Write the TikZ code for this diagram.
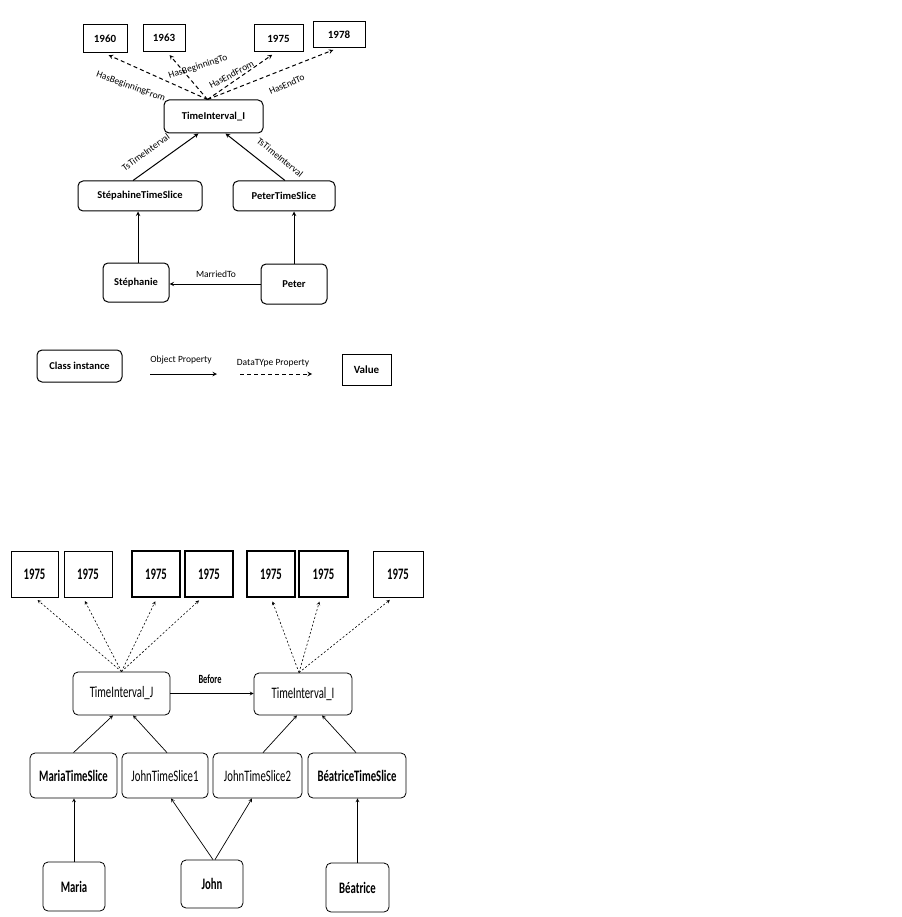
\documentclass[tikz,border=0pt]{standalone}
\usepackage{fontspec}
\setmainfont{Carlito}
\newfontfamily\narrowfont[FakeStretch=0.67]{Carlito}
\usepackage{tikz}
\tikzset{%
    dims/.style 2 args={minimum width=#1, minimum height=#2},
    inst/.style={draw, line width=1pt, rounded corners=5pt, inner sep=0pt,
        font=\bfseries\fontsize{10.5}{12}\selectfont},
    val/.style={draw, line width=1pt, inner sep=0pt,
        font=\bfseries\fontsize{11}{12}\selectfont},
    lbl/.style={inner sep=0pt, font=\fontsize{9.5}{10}\selectfont},
    objprop/.style={->, line width=1pt, >=stealth},
    dataprop/.style={->, line width=1pt, >=stealth, dash pattern=on 4pt off 3pt,
        shorten >=4pt},
%   lower picture
    ninst/.style={draw, line width=0.8pt, rounded corners=5pt, inner sep=0pt,
        font=\narrowfont\fontsize{16}{18}\selectfont},
    binst/.style={ninst, font=\narrowfont\bfseries\fontsize{16}{18}\selectfont},
    nval/.style={draw, line width=0.8pt, inner sep=0pt,
        font=\narrowfont\bfseries\fontsize{16}{18}\selectfont},
    nobjprop/.style={->, line width=0.7pt, >=stealth},
    ndataprop/.style={->, line width=0.6pt, >=stealth, dash pattern=on 2pt off 2pt,
        shorten >=4pt}
}

\begin{document}
\begin{tikzpicture}[x=1pt,y=-1pt]
    \fill[white] (0,0) rectangle (901,917);
    \useasboundingbox (0,0) rectangle (901,917);
%-----------------------------------------------
    \node[val,dims={44pt}{28pt}] (y1960) at (105,39) {1960};
    \node[val,dims={42pt}{27pt}] (y1963) at (164,38) {1963};
    \node[val,dims={49pt}{27pt}] (y1975) at (278.5,38.5) {1975};
    \node[val,dims={52pt}{26pt}] (y1978) at (339,35) {1978};
    \node[inst,dims={99pt}{33pt}] (tiI) at (213.5,116.5) {TimeInterval\_I};
    \node[inst,dims={124pt}{30pt}] (stephTS) at (140,196) {StépahineTimeSlice};
    \node[inst,dims={102pt}{30pt}] (peterTS) at (284,196) {PeterTimeSlice};
    \node[inst,dims={66pt}{39pt}] (steph) at (136,282.5) {Stéphanie};
    \node[inst,dims={66pt}{40pt}] (peter) at (294,284) {Peter};
%-----------------------------------------------
    \coordinate (tiItop) at ([xshift=-6]tiI.north);
    \draw[dataprop] (tiItop)--(y1960.south);
    \draw[dataprop] (tiItop)--([xshift=3]y1963.south);
    \draw[dataprop] (tiItop)--([xshift=-3]y1975.south);
    \draw[dataprop] (tiItop)--([xshift=-2]y1978.south);
    \draw[objprop] ([xshift=-7]stephTS.north)--([xshift=-15]tiI.south);
    \draw[objprop] ([xshift=1]peterTS.north)--([xshift=12]tiI.south);
    \draw[objprop] ([xshift=2]steph.north)--([xshift=2]steph.north |- stephTS.south);
    \draw[objprop] (peter.north)--(peter.north |- peterTS.south);
    \draw[objprop] (peter.west)--(peter.west -| steph.east);
%-----------------------------------------------
    \node[lbl,rotate=-20] (lHBF) at (130.7,86.7) {HasBeginningFrom};
    \node[lbl,rotate=18] (lHBT) at (198,67) {HasBeginningTo};
    \node[lbl,rotate=28] (lHEF) at (231.5,74.5) {HasEndFrom};
    \node[lbl,rotate=24] (lHET) at (286.7,84.3) {HasEndTo};
    \node[lbl,rotate=36] (lTs1) at (145.7,152.3) {TsTimeInterval};
    \node[lbl,rotate=-39] (lTs2) at (280,157.3) {TsTimeInterval};
    \node[lbl] (lMar) at (216,274) {MarriedTo};
%-----------------------------------------------
    \node[inst,dims={85pt}{32pt}] (legInst) at (79.5,366) {Class instance};
    \coordinate (op1) at (150,374);
    \coordinate (op2) at (217,374);
    \coordinate (dp1) at (240,374);
    \coordinate (dp2) at (316,374);
    \draw[objprop] (op1)--(op2);
    \draw[dataprop] (dp1)--(dp2);
    \node[lbl] (legObj) at (181,360) {Object Property};
    \node[lbl] (legData) at (273,363) {DataTYpe Property};
    \node[val,dims={49pt}{31pt}] (legVal) at (366.5,369.5) {Value};
%-----------------------------------------------
    \foreach \n/\x/\w in {b1/34.5/47, b2/88/48, b7/398/50}
        \node[nval,dims={\w pt}{46pt}] (\n) at (\x,574) {1975};
    \foreach \n/\x/\w in {b3/156/48, b4/209/48, b5/271/48, b6/323.5/49}
        \node[nval,line width=1.4pt,dims={\w pt}{46pt}] (\n) at (\x,574) {1975};
    \node[ninst,dims={97pt}{43pt}] (tiJ) at (121.5,693.5) {TimeInterval\_J};
    \node[ninst,dims={98pt}{42pt}] (tiI2) at (303,694) {TimeInterval\_I};
    \node[binst,dims={87pt}{45pt}] (mariaTS) at (73.5,775.5) {MariaTimeSlice};
    \node[ninst,dims={86pt}{45pt}] (johnTS1) at (165,775.5) {JohnTimeSlice1};
    \node[ninst,dims={89pt}{45pt}] (johnTS2) at (257.5,775.5) {JohnTimeSlice2};
    \node[binst,dims={98pt}{45pt}] (beatTS) at (357,775.5) {BéatriceTimeSlice};
    \node[binst,dims={62pt}{49pt}] (maria) at (74,886.5) {Maria};
    \node[binst,dims={62pt}{48pt}] (john) at (212,884) {John};
    \node[binst,dims={63pt}{49pt}] (beat) at (357.5,887.5) {Béatrice};
%-----------------------------------------------
    \coordinate (tiJtop) at (tiJ.north);
    \coordinate (tiI2top) at ([xshift=-4]tiI2.north);
    \draw[ndataprop] (tiJtop)--(b1.south);
    \draw[ndataprop] (tiJtop)--([xshift=-5]b2.south);
    \draw[ndataprop] (tiJtop)--([xshift=1]b3.south);
    \draw[ndataprop] (tiJtop)--([xshift=-7]b4.south);
    \draw[ndataprop] (tiI2top)--(b5.south);
    \draw[ndataprop] (tiI2top)--([xshift=-3]b6.south);
    \draw[ndataprop] (tiI2top)--([xshift=-5]b7.south);
    \draw[nobjprop] (tiJ.east)--(tiI2.west |- tiJ.east);
    \node[inner sep=0pt,font=\narrowfont\bfseries\fontsize{12.5}{14}\selectfont] (lBef) at (210,679) {Before};
%-----------------------------------------------
    \draw[nobjprop] (mariaTS.north)--([xshift=-8.5]tiJ.south);
    \draw[nobjprop] ([xshift=2]johnTS1.north)--([xshift=11.5]tiJ.south);
    \draw[nobjprop] ([xshift=5.5]johnTS2.north)--([xshift=-6]tiI2.south);
    \draw[nobjprop] ([xshift=-1]beatTS.north)--([xshift=19]tiI2.south);
    \draw[nobjprop] (maria.north)--(maria.north |- mariaTS.south);
    \draw[nobjprop] ([xshift=1]john.north)--([xshift=6]johnTS1.south);
    \draw[nobjprop] ([xshift=3]john.north)--([xshift=-5.5]johnTS2.south);
    \draw[nobjprop] (beat.north)--(beat.north |- beatTS.south);
\end{tikzpicture}
\end{document}
